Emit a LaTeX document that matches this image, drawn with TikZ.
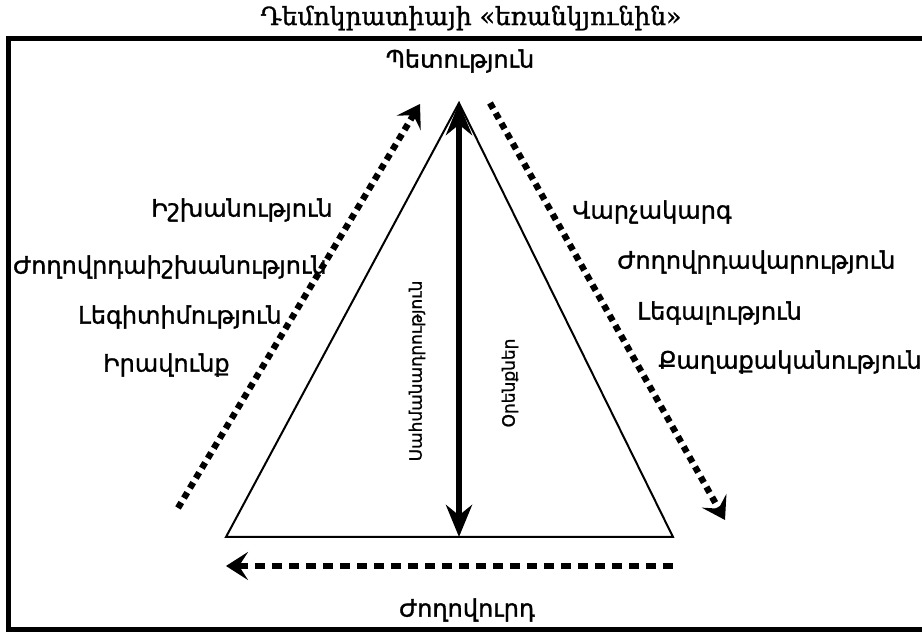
\documentclass[tikz,border=0pt]{standalone}
\usepackage{fontspec}
\setmainfont{DejaVu Sans}[BoldFont=DejaVu Sans, BoldFeatures={FakeBold=1.2}]
\newfontfamily\titlefont{DejaVu Serif}[BoldFont=DejaVu Serif, BoldFeatures={FakeBold=1.2}]
\usetikzlibrary{arrows.meta,positioning}
\tikzstyle{term} = [font=\bfseries\fontsize{12}{14}\selectfont, inner sep=0pt]
\tikzstyle{vterm} = [font=\bfseries\fontsize{8.5}{10}\selectfont, inner sep=0pt, rotate=90]
\tikzstyle{dotarrow} = [
  line width=3.2pt,
  dash pattern=on 3.2pt off 2.6pt,
  -{Stealth[length=11pt,width=14pt,inset=4.5pt]},
  ]
\tikzstyle{dasharrow} = [
  line width=3pt,
  dash pattern=on 5pt off 3.5pt,
  -{Stealth[length=11pt,width=14pt,inset=4.5pt]},
  ]

\begin{document}
\begin{tikzpicture}[x=0.5pt,y=-0.5pt]
  \useasboundingbox (0,0) rectangle (922,635);
  % frame
  \draw[line width=2.5pt] (922,39) -- (8,39) -- (8,630) -- (922,630);
  \node[inner sep=0pt, font=\titlefont\bfseries\fontsize{12.5}{14}\selectfont] (title) at (471,18) {Դեմոկրատիայի «եռանկյունին»};

  % triangle
  \coordinate (apex) at (459,103);
  \coordinate (baseL) at (226,537);
  \coordinate (baseR) at (673,537);
  \coordinate (mid) at (459,537);
  \draw[line width=1pt, line join=miter] (apex) -- (baseL) -- (baseR) -- cycle;
  \draw[line width=3pt, {Stealth[length=16pt,width=13pt]}-{Stealth[length=16pt,width=13pt]}] (apex) -- (mid);

  \node[term] (state) at (460,61) {Պետություն};
  \node[term] (people) at (467,610) {Ժողովուրդ};
  \node[vterm] (constitution) at (417,371) {Սահմանադրություն};
  \node[vterm] (laws) at (510,383) {Օրենքներ};

  % left side
  \node[term, anchor=east] (power) at (333,210) {Իշխանություն};
  \node[term, anchor=east] (folkpower) at (327,267) {Ժողովրդաիշխանություն};
  \node[term, anchor=east] (legit) at (282,317) {Լեգիտիմություն};
  \node[term, anchor=east] (right) at (230,365) {Իրավունք};

  % right side
  \node[term, anchor=west] (regime) at (572,212) {Վարչակարգ};
  \node[term, anchor=west] (democracy) at (617,262) {Ժողովրդավարություն};
  \node[term, anchor=west] (legal) at (637,313) {Լեգալություն};
  \node[term, anchor=west] (politics) at (658,362) {Քաղաքականություն};

  \coordinate (upS) at (178,508);
  \coordinate (upE) at (420,104);
  \coordinate (downS) at (490,103);
  \coordinate (downE) at (725,520);
  \coordinate (backS) at (673,566);
  \coordinate (backE) at (226,566);
  \draw[dotarrow] (upS) -- (upE);
  \draw[dotarrow] (downS) -- (downE);
  \draw[dasharrow] (backS) -- (backE);
\end{tikzpicture}
\end{document}
